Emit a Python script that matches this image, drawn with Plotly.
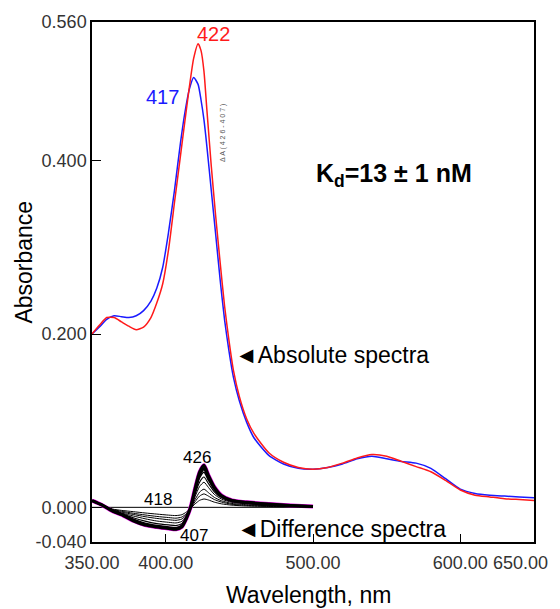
import plotly.graph_objects as go

# ---------------- data ----------------
abs_wavelength = [350, 355, 360, 365, 370, 375, 380, 385, 390, 394, 398, 402, 406, 410, 413,
                  416, 419, 422, 424, 426, 428, 431, 434, 437, 440, 443, 446, 450, 455, 460,
                  470, 480, 490, 500, 510, 520, 530, 540, 550, 560, 570, 580, 590, 600, 610,
                  620, 630, 640, 650]
abs_free = [0.200, 0.208, 0.217, 0.221, 0.220, 0.219, 0.221, 0.227, 0.238, 0.253, 0.277, 0.318,
            0.366, 0.420, 0.455, 0.482, 0.496, 0.488, 0.470, 0.447, 0.416, 0.365, 0.314, 0.262,
            0.216, 0.180, 0.150, 0.123, 0.098, 0.080, 0.060, 0.050, 0.045, 0.044, 0.046, 0.050,
            0.056, 0.059, 0.056, 0.053, 0.051, 0.045, 0.033, 0.021, 0.016, 0.014, 0.013, 0.012,
            0.011]
abs_bound = [0.200, 0.210, 0.219, 0.219, 0.214, 0.209, 0.205, 0.208, 0.219, 0.236, 0.258, 0.298,
             0.352, 0.405, 0.445, 0.484, 0.518, 0.535, 0.527, 0.503, 0.458, 0.393, 0.335, 0.282,
             0.232, 0.192, 0.158, 0.128, 0.102, 0.085, 0.063, 0.052, 0.046, 0.044, 0.046, 0.051,
             0.057, 0.061, 0.059, 0.053, 0.047, 0.041, 0.031, 0.020, 0.014, 0.012, 0.010, 0.009,
             0.008]

diff_wavelength = [350, 357, 364, 370, 378, 386, 394, 402, 407, 411, 414, 417, 420, 423, 426,
                   429, 433, 438, 445, 455, 470, 485, 500]
diff_spectra = [
    [0.0077, 0.0025, -0.0020, -0.0035, -0.0050, -0.0065, -0.0078, -0.0090, -0.0095, -0.0085, -0.0055,
     -0.0010, 0.0040, 0.0080, 0.0096, 0.0085, 0.0060, 0.0040, 0.0025, 0.0015, 0.0010, 0.0006, 0.0003],
    [0.0077, 0.0025, -0.0025, -0.0045, -0.0068, -0.0088, -0.0105, -0.0118, -0.0125, -0.0112, -0.0075,
     -0.0010, 0.0065, 0.0130, 0.0155, 0.0130, 0.0090, 0.0060, 0.0035, 0.0022, 0.0014, 0.0008, 0.0004],
    [0.0077, 0.0025, -0.0030, -0.0055, -0.0082, -0.0108, -0.0128, -0.0143, -0.0150, -0.0135, -0.0090,
     -0.0008, 0.0090, 0.0175, 0.0210, 0.0170, 0.0115, 0.0075, 0.0045, 0.0030, 0.0018, 0.0010, 0.0005],
    [0.0077, 0.0025, -0.0035, -0.0065, -0.0100, -0.0132, -0.0158, -0.0173, -0.0180, -0.0162, -0.0105,
     -0.0005, 0.0125, 0.0240, 0.0290, 0.0230, 0.0150, 0.0095, 0.0058, 0.0040, 0.0025, 0.0014, 0.0007],
    [0.0077, 0.0025, -0.0038, -0.0072, -0.0120, -0.0160, -0.0188, -0.0203, -0.0210, -0.0188, -0.0115,
     -0.0002, 0.0155, 0.0290, 0.0350, 0.0275, 0.0180, 0.0110, 0.0068, 0.0048, 0.0030, 0.0018, 0.0008],
    [0.0077, 0.0025, -0.0041, -0.0078, -0.0137, -0.0183, -0.0210, -0.0228, -0.0235, -0.0208, -0.0122,
     0.0001, 0.0185, 0.0340, 0.0405, 0.0315, 0.0205, 0.0122, 0.0074, 0.0053, 0.0034, 0.0020, 0.0009],
    [0.0077, 0.0025, -0.0043, -0.0082, -0.0148, -0.0197, -0.0222, -0.0240, -0.0250, -0.0220, -0.0127,
     0.0003, 0.0205, 0.0375, 0.0445, 0.0345, 0.0222, 0.0130, 0.0078, 0.0056, 0.0036, 0.0021, 0.0010],
    [0.0077, 0.0025, -0.0045, -0.0085, -0.0155, -0.0205, -0.0228, -0.0245, -0.0254, -0.0225, -0.0130,
     0.0005, 0.0220, 0.0405, 0.0485, 0.0370, 0.0235, 0.0135, 0.0080, 0.0058, 0.0038, 0.0022, 0.0010],
]
baseline_wavelength = [350, 500]
baseline_values = [0.0, 0.0]

x_tickvals = [350, 400, 500, 600]
x_ticktext = ["350.00", "400.00", "500.00", "600.00"]
y_tickvals = [0.56, 0.4, 0.2, 0.0, -0.04]
y_ticktext = ["0.560", "0.400", "0.200", "0.000", "-0.040"]

FONT = "Liberation Sans, Arial, sans-serif"

fig = go.Figure()

# baseline of difference spectra
fig.add_trace(go.Scatter(x=baseline_wavelength, y=baseline_values, mode="lines",
                         line=dict(color="black", width=1), showlegend=False, hoverinfo="skip"))

# magenta envelope under the largest difference spectrum
fig.add_trace(go.Scatter(x=diff_wavelength, y=diff_spectra[-1], mode="lines",
                         line=dict(color="#e000e0", width=4, shape="spline", smoothing=0.6),
                         showlegend=False))

widths = [1, 1, 1, 1, 1.2, 1.5, 2.5, 3]
for vals, w in zip(diff_spectra, widths):
    fig.add_trace(go.Scatter(x=diff_wavelength, y=vals, mode="lines",
                             line=dict(color="black", width=w, shape="spline", smoothing=0.6),
                             showlegend=False))

fig.add_trace(go.Scatter(x=abs_wavelength, y=abs_free, mode="lines",
                         line=dict(color="#1a1aff", width=1.5, shape="spline", smoothing=0.6),
                         showlegend=False))
fig.add_trace(go.Scatter(x=abs_wavelength, y=abs_bound, mode="lines",
                         line=dict(color="#ff1a1a", width=1.5, shape="spline", smoothing=0.6),
                         showlegend=False))

ann = []
def A(x, y, text, size, color="black", xanchor="center", yanchor="middle", xref="x", yref="y",
      angle=0, bold=False):
    t = f"<b>{text}</b>" if bold else text
    ann.append(dict(x=x, y=y, xref=xref, yref=yref, text=t, showarrow=False,
                    xanchor=xanchor, yanchor=yanchor, textangle=angle,
                    font=dict(family=FONT, size=size, color=color)))

A(397.7, 0.473, "417", 20, "#1a1aff")
A(432.6, 0.546, "422", 20, "#ff1a1a")
A(439.4, 0.4316, "Δ A ( 4 2 6 - 4 0 7 )", 7, "#555555", angle=-90)
A(555, 0.383, "K<sub>d</sub>=13 ± 1 nM", 25, bold=True)
A(445.5, 0.1754, "◄Absolute spectra", 23, xanchor="left")
A(447, -0.0245, "◄Difference spectra", 23, xanchor="left")
A(421.5, 0.0577, "426", 17)
A(394.7, 0.0092, "418", 17)
A(419.4, -0.0323, "407", 17)
A(0.969, -0.041, "650.00", 18, "#333333", xref="paper", yref="paper")
A(-0.153, 0.538, "Absorbance", 23, angle=-90, xref="paper", yref="paper")
A(0.4905, -0.1025, "Wavelength, nm", 23, xref="paper", yref="paper")

fig.update_layout(
    width=560, height=609,
    margin=dict(l=92, r=26, t=22, b=67, autoexpand=False),
    paper_bgcolor="white", plot_bgcolor="white",
    font=dict(family=FONT, size=18, color="#333333"),
    annotations=ann,
    xaxis=dict(range=[350, 650], tickvals=x_tickvals, ticktext=x_ticktext,
               showgrid=False, zeroline=False, showline=True, linecolor="black", linewidth=1.5,
               mirror=True, ticks="inside", ticklen=8, tickcolor="black", ticklabelstandoff=4,
               tickfont=dict(size=18, color="#333333")),
    yaxis=dict(range=[-0.04, 0.56], tickvals=y_tickvals, ticktext=y_ticktext,
               showgrid=False, zeroline=False, showline=True, linecolor="black", linewidth=1.5,
               mirror=True, ticks="inside", ticklen=9, tickcolor="black",
               tickfont=dict(size=18, color="#333333")),
)

fig.write_html("out.html", config={"displayModeBar": False},
               post_script="document.body.style.margin='0';document.body.style.overflow='hidden';")
